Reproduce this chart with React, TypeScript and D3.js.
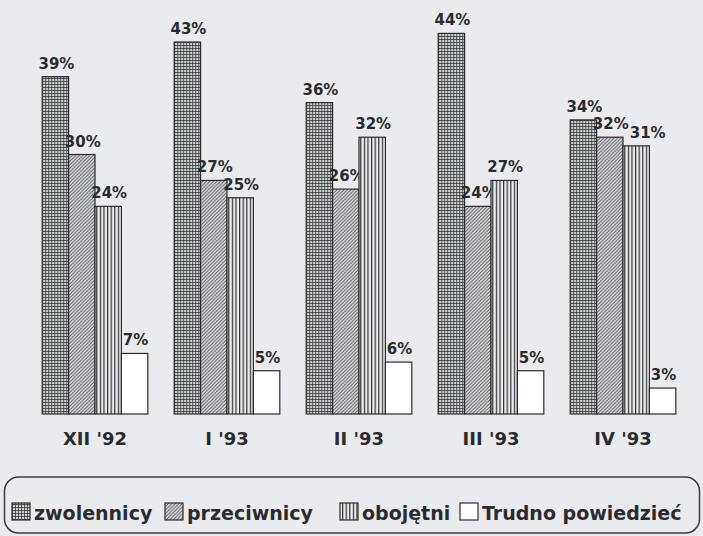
import React from "react";
import * as d3 from "d3";

const categories = ["XII '92", "I '93", "II '93", "III '93", "IV '93"];
const seriesNames = ["zwolennicy", "przeciwnicy", "obojętni", "Trudno powiedzieć"];
const zwolennicy = [39, 43, 36, 44, 34];
const przeciwnicy = [30, 27, 26, 24, 32];
const obojetni = [24, 25, 32, 27, 31];
const trudno = [7, 5, 6, 5, 3];
const seriesValues = [zwolennicy, przeciwnicy, obojetni, trudno];

const W = 703;
const H = 536;
const FONT = "'DejaVu Sans', Verdana, sans-serif";
const INK = "#2b2b2d";
const BG = "#eaebef";
const fills = ["url(#pGrid)", "url(#pDiag)", "url(#pVert)", "#ffffff"];
const LABEL_SIZE = 15;

function labelWidth(s: string) {
  let w = 0;
  for (const ch of s) w += ch === "%" ? 1.002 : 0.696;
  return w * LABEL_SIZE;
}

export default function App() {
  const x0 = d3.scaleBand<string>().domain(categories).range([29, 689]).paddingInner(0.2).paddingOuter(0.1);
  const x1 = d3.scaleBand<number>().domain(d3.range(seriesNames.length)).range([0, x0.bandwidth()]);
  const y = d3.scaleLinear().domain([0, 45]).range([414, 414 - 45 * 8.65]);

  const legendSwatchX = [12, 165, 340, 460];

  return (
    <svg width={W} height={H} style={{ position: "absolute", left: 0, top: 0, background: BG }}>
      <defs>
        <pattern id="pGrid" width={3} height={3} patternUnits="userSpaceOnUse">
          <rect width={3} height={3} fill="#cdd0d3" />
          <path d="M0,0H3M0,0V3" stroke="#2c3030" strokeWidth={1.5} />
        </pattern>
        <pattern id="pDiag" width={3.5} height={3.5} patternUnits="userSpaceOnUse">
          <rect width={3.5} height={3.5} fill="#dfe1e4" />
          <path d="M-1,1L1,-1M0,3.5L3.5,0M2.5,4.5L4.5,2.5" stroke="#55585a" strokeWidth={1} />
        </pattern>
        <pattern id="pVert" width={3.6} height={4} patternUnits="userSpaceOnUse">
          <rect width={3.6} height={4} fill="#e9ebee" />
          <path d="M0.6,0V4" stroke="#2f3233" strokeWidth={1.2} />
        </pattern>
      </defs>
      <rect width={W} height={H} fill={BG} />
      {categories.map((c, ci) => {
        let prevRight = -Infinity;
        let prevBase = 0;
        return (
          <g key={c} transform={`translate(${x0(c)},0)`}>
            {seriesValues.map((vals, si) => {
              const v = vals[ci];
              const bx = x1(si)!;
              const bw = x1.bandwidth();
              const label = `${v}%`;
              const lw = labelWidth(label);
              let lx = bx + bw / 2 - lw / 2 + 1;
              const base = y(v) - 8;
              if (lx < prevRight + 1 && Math.abs(base - prevBase) < 13) lx = prevRight + 1;
              prevRight = lx + lw;
              prevBase = base;
              return (
                <g key={si}>
                  <rect
                    x={bx}
                    y={y(v)}
                    width={bw}
                    height={y(0) - y(v)}
                    fill={fills[si]}
                    stroke={INK}
                    strokeWidth={1.2}
                  />
                  <text
                    x={lx}
                    y={base}
                    fontFamily={FONT}
                    fontWeight="bold"
                    fontSize={LABEL_SIZE}
                    fill={INK}
                  >
                    {label}
                  </text>
                </g>
              );
            })}
            <text
              x={x0.bandwidth() / 2}
              y={445}
              textAnchor="middle"
              fontFamily={FONT}
              fontWeight="bold"
              fontSize={18}
              fill={INK}
            >
              {c}
            </text>
          </g>
        );
      })}
      <rect x={4.5} y={477} width={695} height={56} rx={14} ry={14} fill="none" stroke="#3a3c40" strokeWidth={1.5} />
      {seriesNames.map((n, i) => (
        <g key={n}>
          <rect x={legendSwatchX[i]} y={503} width={18} height={17} fill={fills[i]} stroke={INK} strokeWidth={1.2} />
          <text
            x={legendSwatchX[i] + 22}
            y={520}
            fontFamily={FONT}
            fontWeight="bold"
            fontSize={19}
            fill={INK}
          >
            {n}
          </text>
        </g>
      ))}
    </svg>
  );
}
